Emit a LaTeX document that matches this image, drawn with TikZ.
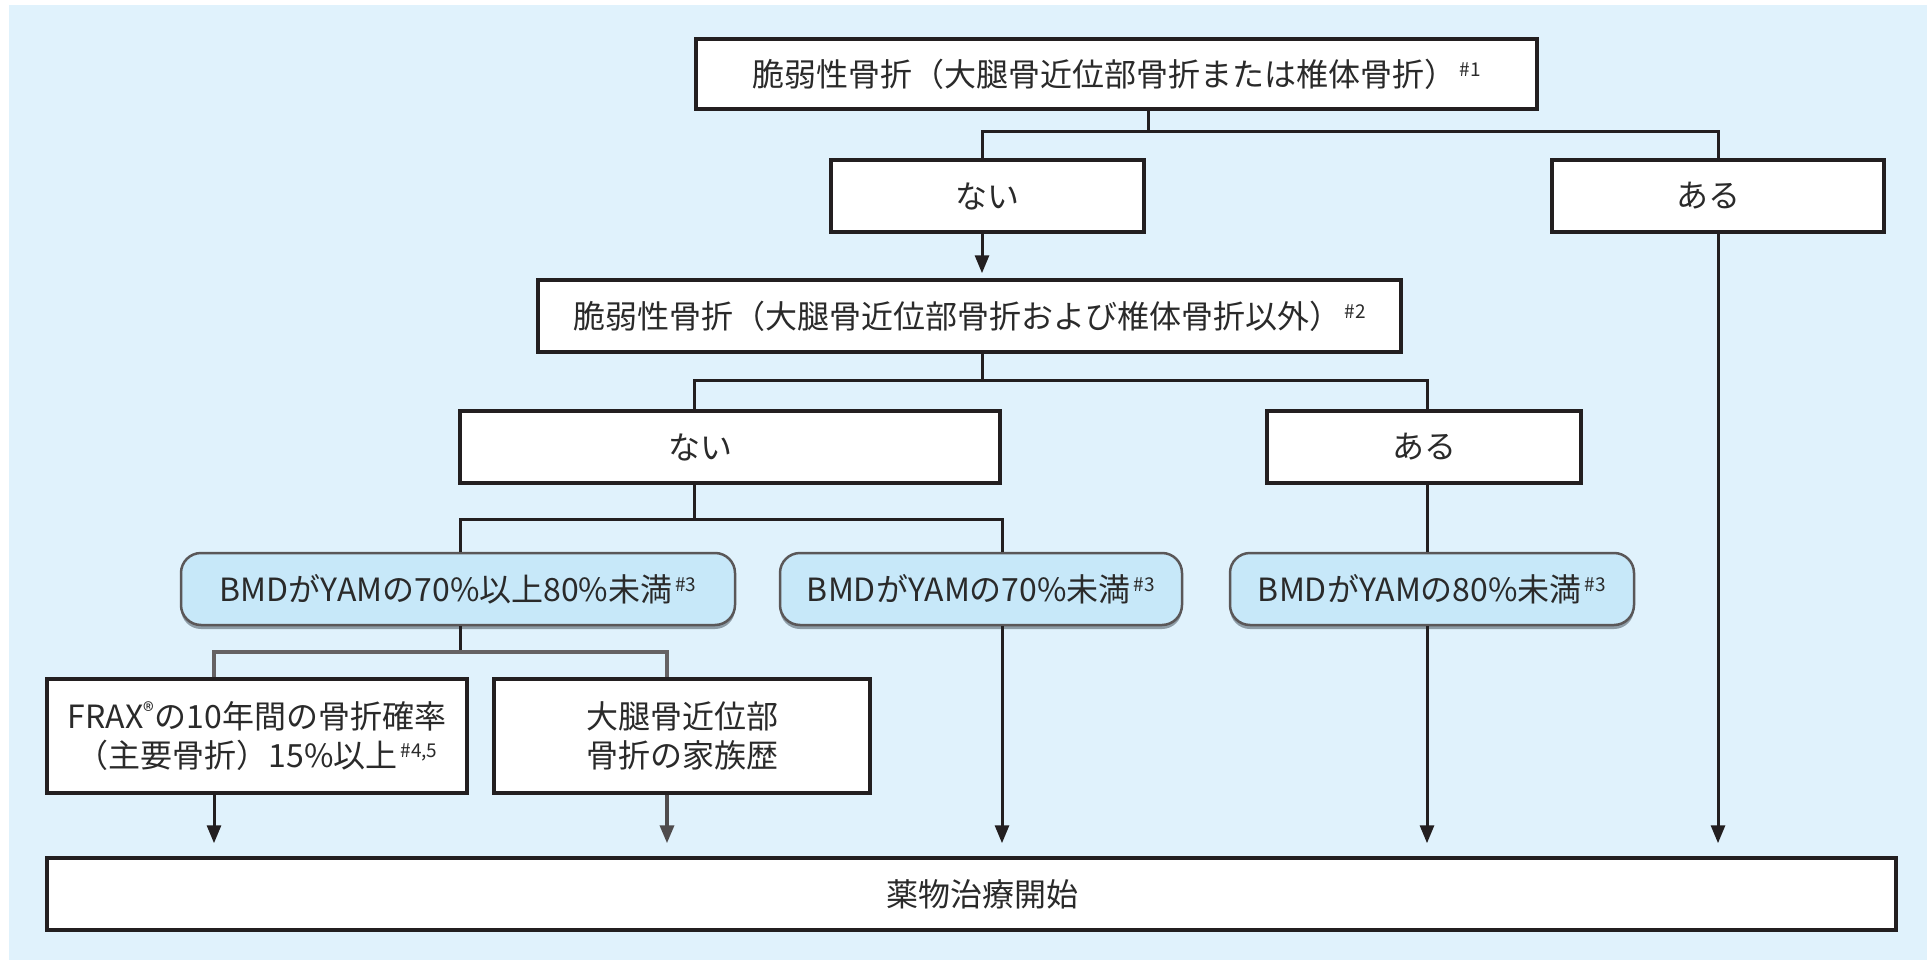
\documentclass[tikz,border=0pt]{standalone}
\usepackage{fontspec}
\setmainfont{Noto Sans CJK JP}
\usetikzlibrary{arrows.meta,shadows}
\definecolor{bg}{HTML}{E0F2FC}
\definecolor{ink}{HTML}{231F20}
\definecolor{bmdfill}{HTML}{C7E8F9}
\definecolor{shade}{HTML}{8D9CA6}
\definecolor{txt}{HTML}{2A2A2A}
\newcommand{\sups}[1]{\hspace{3pt}\raisebox{10pt}{\fontsize{19}{19}\selectfont #1}}
\begin{document}
\begin{tikzpicture}[x=1pt,y=-1pt,
  every node/.style={font=\fontsize{32}{39}\selectfont, text=txt},
  box/.style={draw=ink, line width=3.5pt, fill=white, inner sep=0pt, align=center},
  bmd/.style={draw=ink!75, line width=2.5pt, fill=bmdfill, rounded corners=20pt, inner sep=0pt,
    minimum height=72pt,
    drop shadow={shadow xshift=0pt, shadow yshift=-4pt, fill=shade, opacity=1}},
  conn/.style={draw=ink, line width=3pt},
  conng/.style={draw=ink!70, line width=3.5pt},
  arr/.style={conn, -{Triangle[width=14pt,length=18pt]}}]
\useasboundingbox (0,0) rectangle (1927,960);
\fill[white] (0,0) rectangle (1927,960);
\fill[bg] (9,5) rectangle (1927,960);

% column and row coordinates
\coordinate (c1) at (214,0);
\coordinate (c2) at (460,0);
\coordinate (c3) at (667,0);
\coordinate (c4) at (694,0);
\coordinate (c5) at (982,0);
\coordinate (c6) at (1002,0);
\coordinate (c7) at (1148,0);
\coordinate (c8) at (1427,0);
\coordinate (c9) at (1718,0);
\coordinate (r1) at (0,132);
\coordinate (r2) at (0,380);
\coordinate (r3) at (0,519);
\coordinate (r4) at (0,652);

% nodes
\node[box, minimum width=841pt, minimum height=70pt] (top) at (1116.5,74)
  {脆弱性骨折（大腿骨近位部骨折または椎体骨折）\sups{\#1}};
\node[box, minimum width=313pt, minimum height=72pt] (nai1) at (987.5,196) {ない};
\node[box, minimum width=332pt, minimum height=72pt] (aru1) at (1718,196) {\hspace*{-20pt}ある};
\node[box, minimum width=863pt, minimum height=72pt] (second) at (969.5,316)
  {脆弱性骨折（大腿骨近位部骨折および椎体骨折以外）\sups{\#2}};
\node[box, minimum width=540pt, minimum height=72pt] (nai2) at (730,447) {\hspace*{-60pt}ない};
\node[box, minimum width=314pt, minimum height=72pt] (aru2) at (1424,447) {ある};
\node[bmd, minimum width=554pt] (bmd1) at (458,589) {BMDがYAMの70\%以上80\%未満\sups{\#3}};
\node[bmd, minimum width=402pt] (bmd2) at (981,589) {BMDがYAMの70\%未満\sups{\#3}};
\node[bmd, minimum width=404pt] (bmd3) at (1432,589) {BMDがYAMの80\%未満\sups{\#3}};
\node[box, minimum width=420pt, minimum height=114pt] (frax) at (257,736)
  {FRAX\textsuperscript{®}の10年間の骨折確率\\（主要骨折）15\%以上\sups{\#4,5}};
\node[box, minimum width=376pt, minimum height=114pt] (fam) at (682,736)
  {大腿骨近位部\\骨折の家族歴};
\node[box, minimum width=1849pt, minimum height=72pt] (bottom) at (971.5,894)
  {\hspace*{22pt}薬物治療開始};

% connectors
\draw[conn] (top.south -| c7) -- (c7 |- r1);
\draw[conn] (nai1.north -| c5) |- (c9 |- r1) -- (aru1.north -| c9);
\draw[arr, shorten >=5pt] (nai1.south -| c5) -- (second.north -| c5);
\draw[conn] (second.south -| c5) -- (c5 |- r2);
\draw[conn] (nai2.north -| c4) |- (c8 |- r2) -- (aru2.north -| c8);
\draw[conn] (nai2.south -| c4) -- (c4 |- r3);
\draw[conn] (bmd1.north -| c2) |- (c6 |- r3) -- (bmd2.north -| c6);
\draw[conn] (aru2.south -| c8) -- (bmd3.north -| c8);
\draw[conn] (bmd1.south -| c2) -- (c2 |- r4);
\draw[conng] (frax.north -| c1) |- (c3 |- r4) -- (fam.north -| c3);
\draw[arr, shorten >=13pt] (frax.south -| c1) -- (bottom.north -| c1);
\draw[arr, draw=ink!80, line width=3.5pt, shorten >=13pt] (fam.south -| c3) -- (bottom.north -| c3);
\draw[arr, shorten >=13pt] (bmd2.south -| c6) -- (bottom.north -| c6);
\draw[arr, shorten >=13pt] (bmd3.south -| c8) -- (bottom.north -| c8);
\draw[arr, shorten >=13pt] (aru1.south -| c9) -- (bottom.north -| c9);
\end{tikzpicture}
\end{document}
